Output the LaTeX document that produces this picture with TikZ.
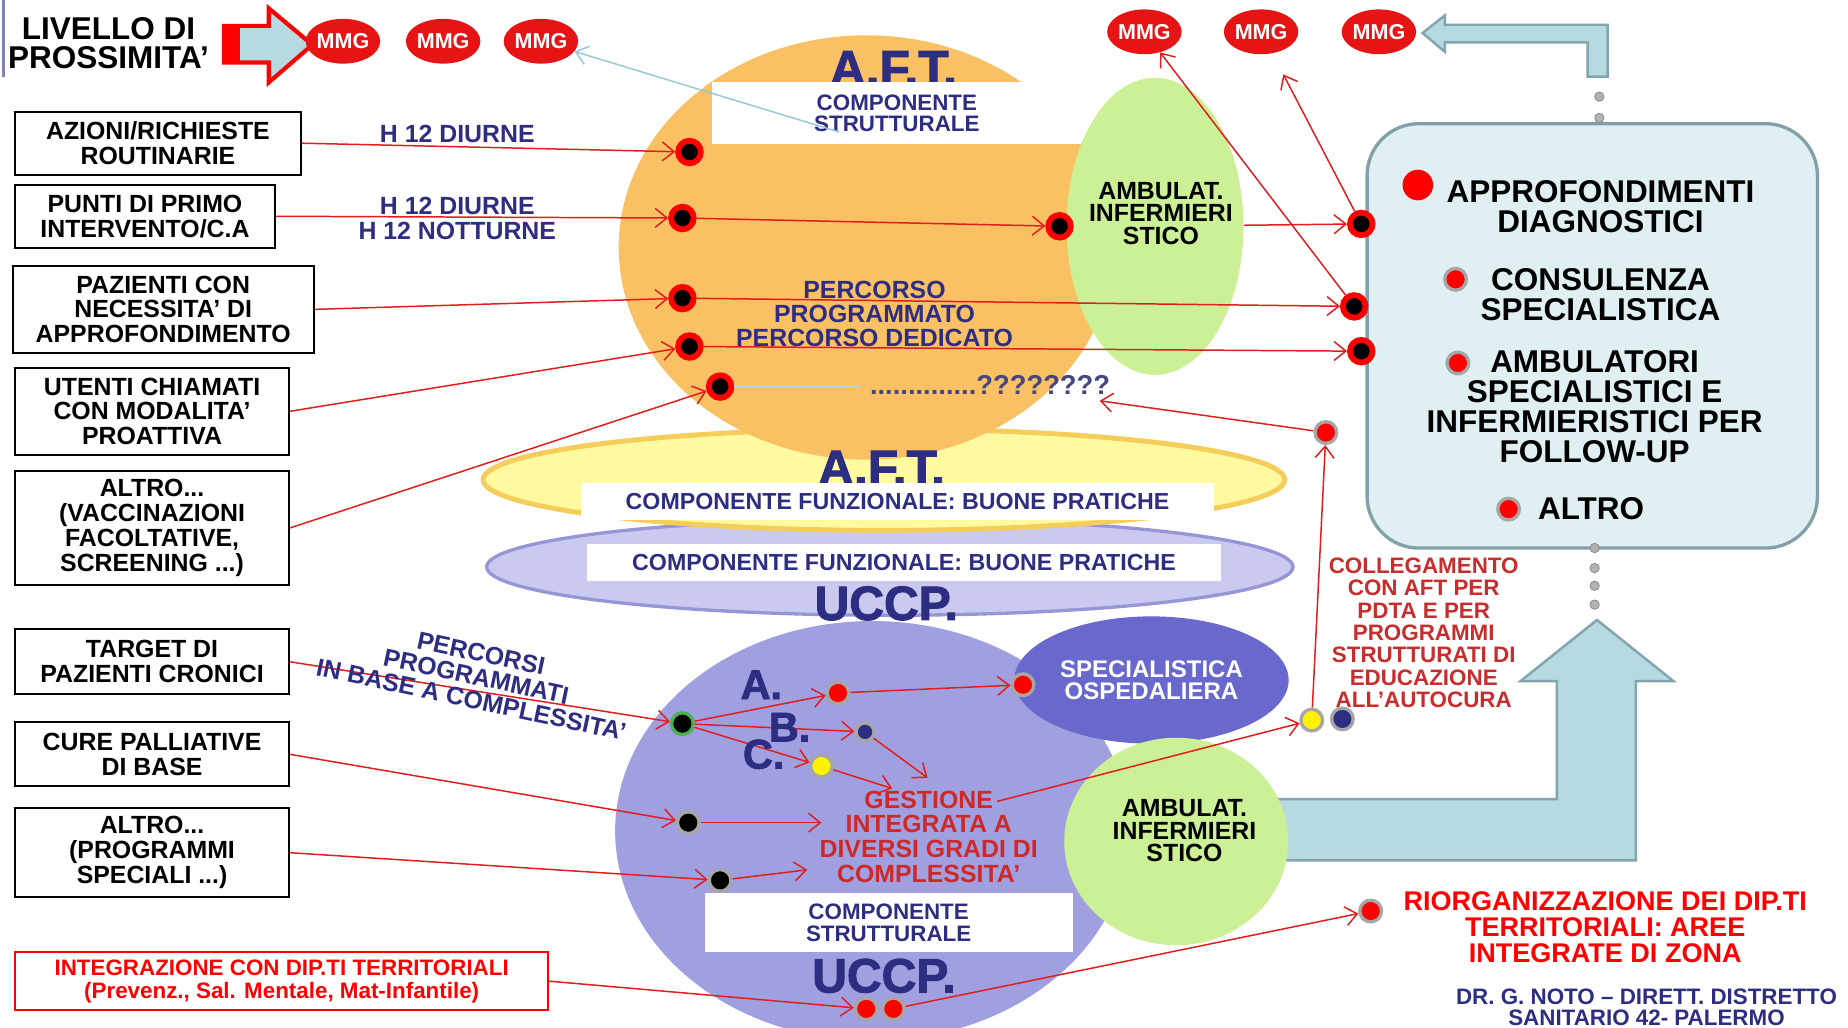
\documentclass[tikz,border=0pt]{standalone}
\usepackage{fontspec}
\setmainfont{Liberation Sans}
\newfontfamily\heavyfont{Liberation Sans Bold}[FakeBold=2]
\usetikzlibrary{arrows.meta, shapes.geometric, positioning, calc}
\definecolor{navy}{RGB}{45,45,130}
\definecolor{mmgred}{RGB}{230,20,20}
\definecolor{linkred}{RGB}{225,30,30}
\definecolor{textred}{RGB}{200,45,45}
\definecolor{aftorange}{RGB}{250,192,100}
\definecolor{ambgreen}{RGB}{204,240,150}
\definecolor{aftyellow}{RGB}{255,250,160}
\definecolor{aftyedge}{RGB}{245,205,90}
\definecolor{uccplav}{RGB}{202,202,240}
\definecolor{uccpedge}{RGB}{150,150,215}
\definecolor{uccppurple}{RGB}{160,160,225}
\definecolor{specblue}{RGB}{105,105,205}
\definecolor{panelfill}{RGB}{224,240,242}
\definecolor{paneledge}{RGB}{130,160,168}
\definecolor{arrowblue}{RGB}{183,218,224}
\definecolor{arrowedge}{RGB}{130,165,175}
\definecolor{lightlink}{RGB}{150,200,215}
\tikzset{
>={Straight Barb[length=2.5mm,width=4mm]}, % open arrow heads as on the slide
every node/.style={font=\bfseries, align=center}, % everything is bold
fs/.style args={#1/#2}{font=\bfseries\fontsize{#1}{#2}\selectfont}, % font size / leading
box/.style={draw=black, line width=1.2pt, fill=white, inner sep=1pt, fs=15/15}, % left input boxes
mmg/.style={ellipse, fill=mmgred, text=white, minimum width=1.4cm, minimum height=0.95cm, inner sep=0pt, fs=13/13}, % MMG badges
hub/.style={circle, fill=black, draw=red, line width=3.5pt, minimum size=0.48cm, inner sep=0pt}, % black dots ringed in red
pin/.style={circle, draw=gray!70, line width=2pt, minimum size=0.46cm, inner sep=0pt}, % coloured dots, grey ring
tiny/.style={circle, fill=gray!60, draw=gray, minimum size=0.2cm, inner sep=0pt}, % small dotted trail
whitebox/.style={fill=white, text=navy, inner sep=0pt}, % white label bands
bigtitle/.style={text=navy, font=\heavyfont\fontsize{30}{30}\selectfont, inner sep=0pt}, % A.F.T. / UCCP.
link/.style={draw=linkred, line width=0.9pt}, % red connectors
}

\begin{document}
\begin{tikzpicture}[x=0.025cm, y=-0.025cm]
\fill[white] (0,0) rectangle (1568,872);
\useasboundingbox (0,0) rectangle (1568,872);

% title and arrow to the MMG
\draw[navy!60, line width=1.5pt] (3,0) -- (3,65);
\node[fs=19/17.5] (livello) at (92,37) {LIVELLO DI\\PROSSIMITA'};
\draw[red, line width=2.5pt, fill=arrowblue] (190,22) -- (228,22) -- (228,7) -- (265,38) -- (228,70) -- (228,53) -- (190,53) -- cycle;
\fill[red] (190,22) rectangle (204,53);
\node[mmg] (m1) at (291,35) {MMG};
\node[mmg] (m2) at (376,35) {MMG};
\node[mmg] (m3) at (459,35) {MMG};
\node[mmg] (m4) at (971,27) {MMG};
\node[mmg] (m5) at (1070,27) {MMG};
\node[mmg] (m6) at (1170,27) {MMG};
\draw[arrowedge, line width=1.5pt, fill=arrowblue] (1207,28) -- (1226,13) -- (1226,21) -- (1364,21) -- (1364,65) -- (1347,65) -- (1347,36) -- (1226,36) -- (1226,44) -- cycle;
\foreach \y in {82,100,118} \node[tiny] at (1357,\y) {};

% input boxes
\node[box, minimum width=6.05cm, minimum height=1.33cm] (box1) at (134,121.5) {AZIONI/RICHIESTE\\ROUTINARIE};
\node[box, minimum width=5.5cm, minimum height=1.33cm] (box2) at (123,183.5) {PUNTI DI PRIMO\\INTERVENTO/C.A};
\node[box, minimum width=6.375cm, minimum height=1.83cm] (box3) at (138.5,262.5) {PAZIENTI CON\\NECESSITA' DI\\APPROFONDIMENTO};
\node[box, minimum width=5.8cm, minimum height=1.85cm] (box4) at (129,349) {UTENTI CHIAMATI\\CON MODALITA'\\PROATTIVA};
\node[box, minimum width=5.8cm, minimum height=2.4cm] (box5) at (129,448) {ALTRO...\\(VACCINAZIONI\\FACOLTATIVE,\\SCREENING ...)};
\node[box, minimum width=5.8cm, minimum height=1.38cm] (box6) at (129,561.5) {TARGET DI\\PAZIENTI CRONICI};
\node[box, minimum width=5.8cm, minimum height=1.35cm] (box7) at (129,640) {CURE PALLIATIVE\\DI BASE};
\node[box, minimum width=5.8cm, minimum height=1.88cm] (box8) at (129,723.5) {ALTRO...\\(PROGRAMMI\\SPECIALI ...)};
\node[box, draw=red, text=red, fs=13.5/14, minimum width=11.3cm, minimum height=1.23cm] (box9) at (239,832.5) {INTEGRAZIONE CON DIP.TI TERRITORIALI\\(Prevenz., Sal. Mentale, Mat-Infantile)};

% A.F.T. and UCCP areas
\node[ellipse, fill=uccplav, draw=uccpedge, line width=2pt, minimum width=17.1cm, minimum height=2.05cm] (uccpf) at (755,481) {};
\node[ellipse, fill=aftyellow, draw=aftyedge, line width=3pt, minimum width=17cm, minimum height=2.15cm] (aftf) at (750,407) {};
\node[ellipse, fill=aftorange, minimum width=10.5cm, minimum height=9cm] (afts) at (735,210) {};
\node[ellipse, fill=ambgreen, minimum width=3.75cm, minimum height=6.3cm] (amb1) at (980,192) {};
\node[ellipse, fill=uccppurple, minimum width=10.9cm, minimum height=8.9cm] (uccps) at (740,705) {};
\node[ellipse, fill=specblue, text=white, fs=14.5/13.5, minimum width=5.5cm, minimum height=2.7cm] (spec) at (977,577) {SPECIALISTICA\\OSPEDALIERA};
\draw[arrowedge, line width=1.5pt, fill=arrowblue] (1077,678) -- (1321,678) -- (1321,578) -- (1290,578) -- (1355,526) -- (1420,578) -- (1388,578) -- (1388,730) -- (1077,730) -- cycle;
\node[ellipse, fill=ambgreen, minimum width=4.75cm, minimum height=4.4cm] (amb2) at (998,714) {};
\node[fs=15/13.5] (amb1txt) at (985,181) {AMBULAT.\\INFERMIERI\\STICO};
\node[fs=15/13.5] (amb2txt) at (1005,705) {AMBULAT.\\INFERMIERI\\STICO};

\node[bigtitle] (aft1) at (758,58) {A.F.T.};
\node[bigtitle] (aft2) at (748,397) {A.F.T.};
\node[bigtitle, font=\heavyfont\fontsize{29}{29}\selectfont] (uccp1) at (752,512) {UCCP.};
\node[bigtitle, font=\heavyfont\fontsize{29}{29}\selectfont] (uccp2) at (750,828) {UCCP.};
\node[whitebox, fs=13.5/13, minimum width=7.825cm, minimum height=1.3cm] (aftcs) at (761,96) {COMPONENTE\\STRUTTURALE};
\node[whitebox, fs=14/14, minimum width=13.425cm, minimum height=0.775cm] (aftcf) at (761.5,425.5) {COMPONENTE FUNZIONALE: BUONE PRATICHE};
\node[whitebox, fs=14/14, minimum width=13.45cm, minimum height=0.775cm] (uccpcf) at (767,477.5) {COMPONENTE FUNZIONALE: BUONE PRATICHE};
\node[whitebox, fs=13.5/13, minimum width=7.8cm, minimum height=1.25cm] (uccpcs) at (754,783) {COMPONENTE\\STRUTTURALE};

% services panel
\node[draw=paneledge, fill=panelfill, line width=2pt, rounded corners=1.1cm, minimum width=9.55cm, minimum height=9cm] (panel) at (1351,285) {};
\foreach \y in {465,482,497,513} \node[tiny] at (1353,\y) {};
\node[circle, fill=red, minimum size=0.65cm, inner sep=0pt] (p1) at (1203,157) {};
\node[pin, fill=red] (p2) at (1235,237) {};
\node[pin, fill=red] (p3) at (1237,308) {};
\node[pin, fill=red] (p4) at (1280,432) {};
\node[fs=19/18] (approf) at (1358,175) {APPROFONDIMENTI\\DIAGNOSTICI};
\node[fs=19/18] (consul) at (1358,250) {CONSULENZA\\SPECIALISTICA};
\node[fs=19/18] (ambspec) at (1353,345) {AMBULATORI\\SPECIALISTICI E\\INFERMIERISTICI PER\\FOLLOW-UP};
\node[fs=19/18] (altro) at (1350,432) {ALTRO};

% dots of the A.F.T.
\node[hub] (d1) at (585,129) {};
\node[hub] (d2) at (579,185) {};
\node[hub] (d3) at (899,192) {};
\node[hub] (d4) at (579,253) {};
\node[hub] (d5) at (585,294) {};
\node[hub] (d6) at (611,328) {};
\node[hub] (r1) at (1155,190) {};
\node[hub] (r2) at (1149,260) {};
\node[hub] (r3) at (1155,298) {};
\node[pin, fill=red] (qdot) at (1125,367) {};
% dots of the UCCP
\node[pin, fill=black, draw=gray!60!green] (u1) at (579,614) {};
\node[pin, fill=red] (uA) at (711,588) {};
\node[pin, fill=red] (specdot) at (868,581) {};
\node[pin, fill=navy, minimum size=0.38cm] (uB) at (734,621) {};
\node[pin, fill=yellow] (uC) at (697,650) {};
\node[pin, fill=black] (u4) at (584,698) {};
\node[pin, fill=black] (u5) at (611,747) {};
\node[pin, fill=red] (rr1) at (735,856) {};
\node[pin, fill=red] (rr2) at (758,856) {};
\node[pin, fill=yellow] (y1) at (1113,611) {};
\node[pin, fill=navy] (n1) at (1139,610) {};
\node[pin, fill=red] (riorg) at (1163,773) {};

\coordinate (lbstart) at (712,112);
\coordinate (qend) at (730,328);
\coordinate (gB) at (787,660);
\coordinate (gC) at (757,669);
\coordinate (g4) at (697,698);
\coordinate (g5) at (685,738);
\coordinate (gestend) at (846,680);

% connectors
\draw[->, draw=lightlink, line width=0.9pt] (lbstart) -- (m3);
\draw[->, link] (box1.east) -- (d1);
\draw[->, link] (box2.east) -- (d2);
\draw[->, link] (d2) -- (d3);
\draw[->, link] (amb1) -- (r1);
\draw[->, link] (box3.east) -- (d4);
\draw[->, link] (d4) -- (r2);
\draw[->, link] (box4.east) -- (d5);
\draw[->, link] (d5) -- (r3);
\draw[->, link] (box5.east) -- (d6);
\draw[gray!40, line width=2pt] (d6) -- (qend);
\draw[->, link, shorten >=0.5cm] (r1) -- (m5);
\draw[->, link] (r2) -- (m4);
\draw[->, link] (box6.east) -- (u1);
\draw[->, link] (u1) -- (uA);
\draw[->, link] (uA) -- (specdot);
\draw[->, link] (u1) -- (uB);
\draw[->, link] (u1) -- (uC);
\draw[->, link] (uB) -- (gB);
\draw[->, link] (uC) -- (gC);
\draw[->, link] (box7.east) -- (u4);
\draw[->, link] (u4) -- (g4);
\draw[->, link] (box8.east) -- (u5);
\draw[->, link] (u5) -- (g5);
\draw[->, link] (gestend) -- (y1);
\draw[->, link] (y1) -- (qdot);
\draw[->, link] (box9.east) -- (rr1);
\draw[->, link] (rr2) -- (riorg);

% labels on the connectors
\node[fs=15/15, text=navy] (h12a) at (388,114) {H 12 DIURNE};
\node[fs=15/15, text=navy] (h12b) at (388,185) {H 12 DIURNE\\H 12 NOTTURNE};
\node[fs=15/14.5, text=navy] (percorso) at (742,266) {PERCORSO\\PROGRAMMATO\\PERCORSO DEDICATO};
\node[fs=16.5/16.5, text=navy!70!gray] (qmarks) at (840,327) {..............????????};
\draw[->, link] (qdot) -- (qmarks);
\node[fs=15/14.2, text=navy, rotate=-12] (percorsi) at (404,574) {PERCORSI\\PROGRAMMATI\\IN BASE A COMPLESSITA'};
\node[bigtitle, font=\heavyfont\fontsize{25}{25}\selectfont] (labA) at (646,581) {A.};
\node[bigtitle, font=\heavyfont\fontsize{25}{25}\selectfont] (labB) at (670,617) {B.};
\node[bigtitle, font=\heavyfont\fontsize{25}{25}\selectfont] (labC) at (648,640) {C.};
\node[fs=15/15, text=textred!90!red] (gestione) at (788,710) {GESTIONE\\INTEGRATA A\\DIVERSI GRADI DI\\COMPLESSITA'};
\node[fs=13.5/13.5, text=textred] (colleg) at (1208,537) {COLLEGAMENTO\\CON AFT PER\\PDTA E PER\\PROGRAMMI\\STRUTTURATI DI\\EDUCAZIONE\\ALL'AUTOCURA};
\node[fs=16.3/15.6, text=red] (riorgtxt) at (1362,787) {RIORGANIZZAZIONE DEI DIP.TI\\TERRITORIALI: AREE\\INTEGRATE DI ZONA};
\node[fs=13.5/12.8, text=navy] (autore) at (1397,855) {DR. G. NOTO -- DIRETT. DISTRETTO\\SANITARIO 42- PALERMO};
\end{tikzpicture}
\end{document}
